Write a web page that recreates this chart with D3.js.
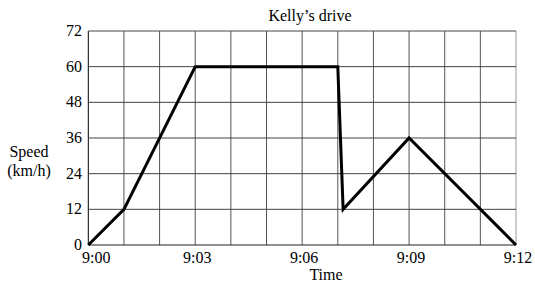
<!DOCTYPE html>
<html><head><meta charset="utf-8">
<script src="https://cdn.jsdelivr.net/npm/d3@7"></script>
<style>body{margin:0;background:#fff}svg{display:block}text{font-family:"Liberation Serif","Times New Roman",serif;fill:#000}</style>
</head><body><svg id="c" width="535" height="283"></svg>
<script>
const minutes = [0, 1, 3, 7, 7.15, 9, 12];
const speeds  = [0, 12, 60, 60, 12, 36, 0];
const xTickMinutes = [0, 3, 6, 9, 12];
const xTickLabels = ["9:00", "9:03", "9:06", "9:09", "9:12"];
const yTicks = [0, 12, 24, 36, 48, 60, 72];
const title = "Kelly\u2019s drive";

const svg = d3.select("#c");
const x = d3.scaleLinear().domain([0, 12]).range([88.3, 516]);
const y = d3.scaleLinear().domain([0, 72]).range([245, 31]);

// grid
const g = svg.append("g");
g.selectAll(".v").data(d3.range(0, 13)).join("line")
  .attr("x1", d => x(d)).attr("x2", d => x(d))
  .attr("y1", y(72)).attr("y2", y(0))
  .attr("stroke", d => d === 12 ? "#999" : (d === 0 ? "#000" : "#555")).attr("stroke-width", 1);
g.selectAll(".h").data(yTicks).join("line")
  .attr("x1", x(0)).attr("x2", x(12))
  .attr("y1", d => y(d)).attr("y2", d => y(d))
  .attr("stroke", d => d === 0 ? "#222" : "#444").attr("stroke-width", 1);

// y labels
svg.selectAll(".yl").data(yTicks).join("text")
  .attr("x", 82).attr("y", d => y(d) + 5)
  .attr("text-anchor", "end").attr("font-size", 16).text(d => d);

// x labels
svg.selectAll(".xl").data(xTickMinutes).join("text")
  .attr("x", (d, i) => x(d) + (i === 0 ? 8 : 2)).attr("y", 263)
  .attr("text-anchor", "middle").attr("font-size", 16).text((d, i) => xTickLabels[i]);

svg.append("text").attr("x", 326).attr("y", 280).attr("text-anchor", "middle").attr("font-size", 16).text("Time");
svg.append("text").attr("x", 29).attr("y", 157).attr("text-anchor", "middle").attr("font-size", 16).text("Speed");
svg.append("text").attr("x", 29).attr("y", 176).attr("text-anchor", "middle").attr("font-size", 16).text("(km/h)");
svg.append("text").attr("x", 310).attr("y", 21).attr("text-anchor", "middle").attr("font-size", 16).text(title);

// line
const pts = minutes.map((m, i) => [m, speeds[i]]);
svg.append("path").datum(pts)
  .attr("d", d3.line().x(d => x(d[0])).y(d => y(d[1])))
  .attr("fill", "none").attr("stroke", "#000").attr("stroke-width", 3)
  .attr("stroke-linejoin", "miter");
</script></body></html>
